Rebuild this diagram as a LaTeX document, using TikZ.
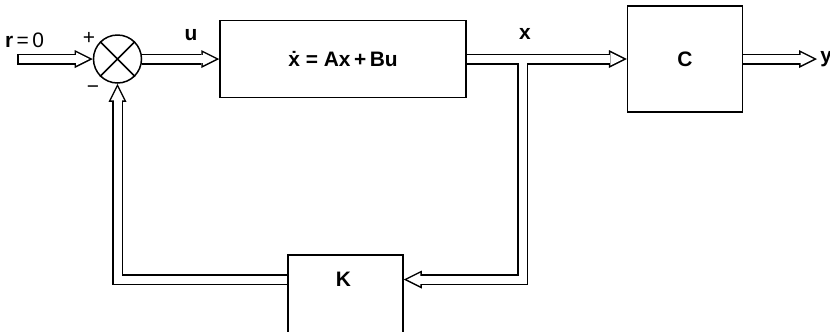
\documentclass[tikz,border=0pt]{standalone}
\usepackage{fontspec}
\setmainfont{Liberation Sans}
\usetikzlibrary{arrows.meta,positioning,backgrounds}

\begin{document}
\begin{tikzpicture}[
    x=0.5bp, y=-0.5bp,
    font=\fontsize{10.5}{12}\selectfont,
    node distance=38.5bp,
    block/.style={
      rectangle, draw=black, line width=0.75bp, inner sep=0pt
    },
    junction/.style={circle, draw=black, line width=0.75bp,
      minimum size=24bp, inner sep=0pt},
    sig/.style={font=\fontsize{10.5}{12}\selectfont\bfseries, inner sep=1pt},
    sgn/.style={inner sep=1pt},
    pipe/.style={line width=5.5bp, black,
      -{Triangle[length=9bp, width=9bp, line width=0pt]}},
    pipecore/.style={line width=4bp, white, shorten >=1.68bp,
      -{Triangle[length=6.57bp, width=6.57bp, line width=0pt]}}
  ]
  \useasboundingbox (0,0) rectangle (830,331);
  \clip (0,0) rectangle (830,331);

  \node[junction] (sum) at (117.5,59) {};
  \draw[line width=0.75bp] (sum.north west) -- (sum.south east)
    (sum.north east) -- (sum.south west);
  \node[block, right=of sum, minimum width=123bp, minimum height=38.5bp] (plant)
    {\bfseries \.{x} = Ax\,+\,Bu};
  \node[block, right=80bp of plant, minimum width=57.5bp, minimum height=53bp] (out)
    {\bfseries C};
  \node[block, below=78bp of plant, xshift=1.25bp,
    minimum width=57.5bp, minimum height=45.5bp] (kgain) {};
  \node[sig] (klbl) at (343.5,279.5) {K};

  \coordinate (rin)  at (17,59);
  \coordinate (tap)  at (522.5,59);
  \coordinate (yout) at (817,59);

  \node[sgn] (rlbl) at (24.5,40) {\textbf{r}\,=\,0};
  \node[sgn] (plus) at (89,38) {+};
  \node[sgn] (minus) at (93,90) {−};
  \node[sig] (ulbl) at (191,35) {u};
  \node[sig] (xlbl) at (525,34) {x};
  \node[sig, right=0.5bp of yout] (ylbl) {y};

  % double-line signals: outline first, then hollow core
  \begin{scope}[on background layer]
    \foreach \pass/\gap in {pipe/0bp, pipecore/0.75bp} {
      \draw[\pass, shorten <=\gap] (rin) -- (sum.west);
      \draw[\pass] (sum.east) -- (plant.west);
      \draw[\pass] (tap) |- (klbl -| kgain.east);
      \draw[\pass] (kgain.west |- klbl) -| (sum.south);
      \draw[\pass] (plant.east) -- (out.west);
      \draw[\pass] (out.east) -- (yout);
    }
  \end{scope}
\end{tikzpicture}
\end{document}
